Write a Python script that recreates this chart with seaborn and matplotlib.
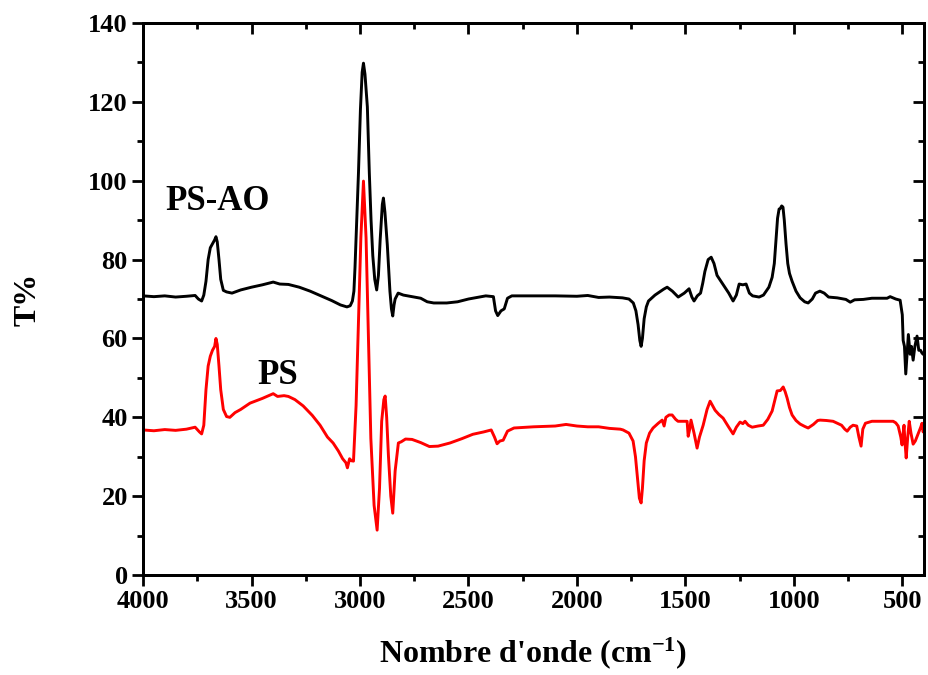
import matplotlib
matplotlib.use("Agg")
import matplotlib.pyplot as plt
from matplotlib.ticker import MultipleLocator
import seaborn as sns
import pandas as pd

# ---- data ----
ps_ao_wn = [4000, 3950, 3900, 3850, 3800, 3760, 3745, 3730, 3720, 3710, 3700, 3690, 3680, 3670, 3664, 3658,
            3650, 3642, 3630, 3615, 3590, 3550, 3500, 3450, 3400, 3370, 3330, 3280, 3230, 3180, 3130, 3090,
            3060, 3045, 3035, 3028, 3023, 3015, 3007, 2998, 2990, 2984, 2977, 2966, 2957, 2949, 2941, 2932,
            2923, 2915, 2907, 2897, 2892, 2885, 2874, 2862, 2855, 2849, 2843, 2838, 2824, 2800, 2760, 2720,
            2690, 2660, 2600, 2550, 2500, 2420, 2385, 2375, 2365, 2350, 2335, 2320, 2300, 2200, 2100, 2000,
            1950, 1900, 1850, 1790, 1760, 1740, 1728, 1718, 1710, 1704, 1698, 1690, 1680, 1670, 1640, 1600,
            1584, 1560, 1533, 1505, 1483, 1470, 1460, 1445, 1430, 1420, 1410, 1395, 1381, 1368, 1354, 1330,
            1300, 1280, 1265, 1252, 1235, 1220, 1205, 1190, 1160, 1140, 1115, 1100, 1090, 1082, 1075, 1068,
            1062, 1056, 1050, 1044, 1036, 1028, 1020, 1008, 990, 971, 950, 934, 915, 900, 880, 860, 840, 800,
            760, 740, 720, 680, 640, 600, 570, 556, 530, 510, 500, 496, 490, 484, 478, 472, 464, 458, 450, 442,
            432, 424, 416, 409, 404, 400]
ps_ao_t = [70.8, 70.6, 70.8, 70.5, 70.7, 70.9, 70.0, 69.5, 71.0, 74.5, 80.0, 83.0, 84.0, 85.0, 85.8, 84.5,
           80.0, 75.0, 72.2, 71.8, 71.5, 72.3, 73.0, 73.6, 74.3, 73.8, 73.7, 73.0, 72.0, 70.8, 69.6, 68.5,
           68.0, 68.3, 69.5, 72.0, 78.0, 90.0, 102.0, 118.0, 127.5, 129.8, 127.0, 118.7, 102.0, 90.0, 81.0, 75.0,
           72.3, 76.0, 85.0, 94.0, 95.6, 92.0, 83.7, 72.0, 67.5, 65.7, 68.5, 70.0, 71.5, 71.0, 70.6, 70.2,
           69.3, 69.0, 69.0, 69.3, 70.0, 70.8, 70.6, 67.0, 65.8, 67.0, 67.5, 70.2, 70.8, 70.8, 70.8, 70.7,
           70.9, 70.4, 70.5, 70.3, 70.0, 69.0, 67.0, 63.5, 59.5, 58.0, 60.0, 65.0, 68.0, 69.5, 71.0, 72.5,
           73.0, 72.0, 70.5, 71.5, 72.6, 70.5, 69.5, 70.8, 71.5, 74.0, 77.0, 80.0, 80.6, 79.0, 76.0, 74.0,
           71.5, 69.5, 71.0, 73.8, 73.6, 73.8, 71.5, 70.8, 70.5, 71.0, 73.0, 75.5, 79.0, 85.0, 90.5, 92.8,
           93.0, 93.6, 93.3, 90.0, 84.0, 79.0, 76.5, 74.5, 72.0, 70.3, 69.3, 69.0, 70.0, 71.5, 72.0, 71.5, 70.5, 70.3,
           69.9, 69.2, 69.8, 69.9, 70.2, 70.2, 70.2, 70.6, 70.0, 69.7, 66.0, 59.5, 58.0, 51.0, 56.0, 61.0, 56.0, 58.0, 54.5, 58.0,
           60.6, 57.0, 57.0, 56.3, 56.0, 56.0]

ps_wn = [4000, 3950, 3900, 3850, 3800, 3760, 3740, 3730, 3720, 3710, 3700, 3690, 3680, 3670, 3664, 3658,
         3650, 3642, 3630, 3615, 3600, 3576, 3550, 3507, 3450, 3400, 3380, 3350, 3330, 3300, 3262, 3220,
         3184, 3150, 3124, 3100, 3080, 3065, 3058, 3048, 3040, 3030, 3018, 3007, 2996, 2984, 2972, 2961,
         2950, 2935, 2921, 2910, 2900, 2890, 2884, 2877, 2869, 2858, 2849, 2838, 2823, 2810, 2790, 2760,
         2720, 2680, 2640, 2585, 2530, 2480, 2430, 2395, 2380, 2368, 2355, 2340, 2320, 2290, 2200, 2100,
         2050, 2000, 1950, 1900, 1850, 1800, 1787, 1760, 1741, 1730, 1720, 1712, 1704, 1698, 1690, 1680,
         1665, 1649, 1625, 1607, 1598, 1590, 1575, 1561, 1545, 1534, 1510, 1492, 1487, 1480, 1474, 1460,
         1446, 1435, 1418, 1400, 1386, 1375, 1363, 1345, 1326, 1300, 1280, 1265, 1248, 1235, 1225, 1210,
         1192, 1165, 1141, 1120, 1100, 1085, 1077, 1062, 1049, 1040, 1031, 1020, 1008, 990, 971, 950, 934,
         910, 890, 879, 850, 819, 800, 780, 765, 754, 740, 727, 710, 700, 690, 682, 670, 640, 616, 580, 542,
         530, 519, 507, 501, 496, 492, 488, 482, 475, 468, 460, 450, 440, 427, 415, 409, 404, 400]
ps_t = [36.8, 36.6, 36.9, 36.7, 37.0, 37.5, 36.3, 35.8, 38.0, 47.0, 53.0, 55.5, 57.0, 58.0, 60.0, 58.5,
        53.0, 47.0, 42.0, 40.2, 40.0, 41.2, 42.0, 43.6, 44.8, 46.0, 45.3, 45.5, 45.3, 44.5, 42.9, 40.5,
        38.0, 35.0, 33.5, 31.5, 29.5, 28.5, 27.2, 29.5, 29.0, 28.9, 43.0, 64.0, 85.5, 99.9, 85.5, 60.0,
        34.7, 17.7, 11.4, 22.0, 39.0, 44.5, 45.4, 40.0, 30.4, 20.0, 15.7, 26.4, 33.5, 33.8, 34.5, 34.4,
        33.6, 32.6, 32.7, 33.5, 34.6, 35.7, 36.3, 36.8, 35.0, 33.3, 34.0, 34.2, 36.5, 37.3, 37.6, 37.8,
        38.2, 37.8, 37.6, 37.6, 37.2, 37.0, 36.8, 36.0, 34.0, 30.0, 24.0, 19.5, 18.3, 22.0, 29.0, 33.5,
        36.0, 37.3, 38.5, 39.3, 37.8, 40.0, 40.6, 40.6, 39.5, 39.0, 39.0, 39.0, 35.2, 37.0, 39.3, 36.0,
        32.2, 35.0, 38.0, 42.0, 44.1, 43.0, 41.8, 40.7, 39.8, 37.5, 35.8, 37.5, 38.8, 38.4, 39.0, 38.0,
        37.5, 37.8, 38.0, 39.5, 41.6, 45.0, 46.7, 46.8, 47.7, 46.5, 44.9, 42.5, 40.6, 39.2, 38.3, 37.7, 37.3,
        38.2, 39.2, 39.3, 39.2, 39.0, 38.5, 38.0, 37.0, 36.5, 37.5, 38.0, 37.8, 35.0, 32.7, 37.0, 38.5, 39.0, 39.0, 39.0, 39.0,
        38.6, 37.8, 35.0, 33.0, 36.0, 38.0, 34.0, 29.7, 35.0, 39.0, 36.0, 33.2, 34.0, 35.8, 37.5, 38.5, 36.3, 37.0]

series_names = ["PS-AO", "PS"]
series_colors = ["black", "red"]
x_ticks = [4000, 3500, 3000, 2500, 2000, 1500, 1000, 500]
y_ticks = [0, 20, 40, 60, 80, 100, 120, 140]
x_label = "Nombre d'onde (cm$^{-1}$)"
y_label = "T%"

df = pd.concat([
    pd.DataFrame({"wn": ps_ao_wn, "T": ps_ao_t, "sample": series_names[0]}),
    pd.DataFrame({"wn": ps_wn, "T": ps_t, "sample": series_names[1]}),
], ignore_index=True)

sns.set_theme(style="ticks")
plt.rcParams["font.family"] = ["Liberation Serif", "DejaVu Serif"]
plt.rcParams["font.weight"] = "bold"
plt.rcParams["text.color"] = "black"
plt.rcParams["axes.labelcolor"] = "black"
plt.rcParams["xtick.color"] = "black"
plt.rcParams["ytick.color"] = "black"
plt.rcParams["mathtext.fontset"] = "custom"
plt.rcParams["mathtext.rm"] = "Liberation Serif:bold"
plt.rcParams["mathtext.it"] = "Liberation Serif:bold"
plt.rcParams["mathtext.bf"] = "Liberation Serif:bold"

fig = plt.figure(figsize=(9.29, 6.75), dpi=100)
ax = fig.add_axes([0.154, 0.148, 0.8406, 0.818])

sns.lineplot(data=df, x="wn", y="T", hue="sample", palette=dict(zip(series_names, series_colors)),
             sort=False, estimator=None, legend=False, linewidth=2.1, ax=ax)

ax.set_xlim(4000, 400)
ax.set_ylim(0, 140)
ax.set_xticks(x_ticks)
ax.set_yticks(y_ticks)
ax.xaxis.set_minor_locator(MultipleLocator(250))
ax.yaxis.set_minor_locator(MultipleLocator(10))

for s in ax.spines.values():
    s.set_linewidth(2.0)
    s.set_color("black")

ax.tick_params(axis="both", which="major", direction="out", length=8, width=2, labelsize=19,
               colors="black", pad=3, top=False, right=False)
ax.tick_params(axis="both", which="minor", direction="out", length=4.5, width=2, colors="black",
               top=False, right=False)

axt = ax.twiny()
axt.set_xlim(ax.get_xlim())
axt.set_xticks(x_ticks)
axt.xaxis.set_minor_locator(MultipleLocator(250))
axt.tick_params(axis="x", which="major", direction="in", length=8, width=2, labeltop=False, colors="black")
axt.tick_params(axis="x", which="minor", direction="in", length=4.5, width=2, colors="black")
axr = ax.twinx()
axr.set_ylim(ax.get_ylim())
axr.set_yticks(y_ticks)
axr.yaxis.set_minor_locator(MultipleLocator(10))
axr.tick_params(axis="y", which="major", direction="in", length=8, width=2, labelright=False, colors="black")
axr.tick_params(axis="y", which="minor", direction="in", length=4.5, width=2, colors="black")
for a in (axt, axr):
    for s in a.spines.values():
        s.set_linewidth(2.0)
        s.set_color("black")

for lab in ax.get_xticklabels() + ax.get_yticklabels():
    lab.set_fontweight("bold")
    lab.set_color("black")

ax.set_xlabel(x_label, fontsize=23, fontweight="bold", labelpad=16, color="black")
ax.set_ylabel(y_label, fontsize=23, fontweight="bold", labelpad=33, color="black")

ax.text(3654, 94.8, series_names[0], fontsize=25, fontweight="bold", ha="center", va="center", color="black")
ax.text(3378, 50.5, series_names[1], fontsize=25, fontweight="bold", ha="center", va="center", color="black")

fig.savefig("out.png", dpi=100)
